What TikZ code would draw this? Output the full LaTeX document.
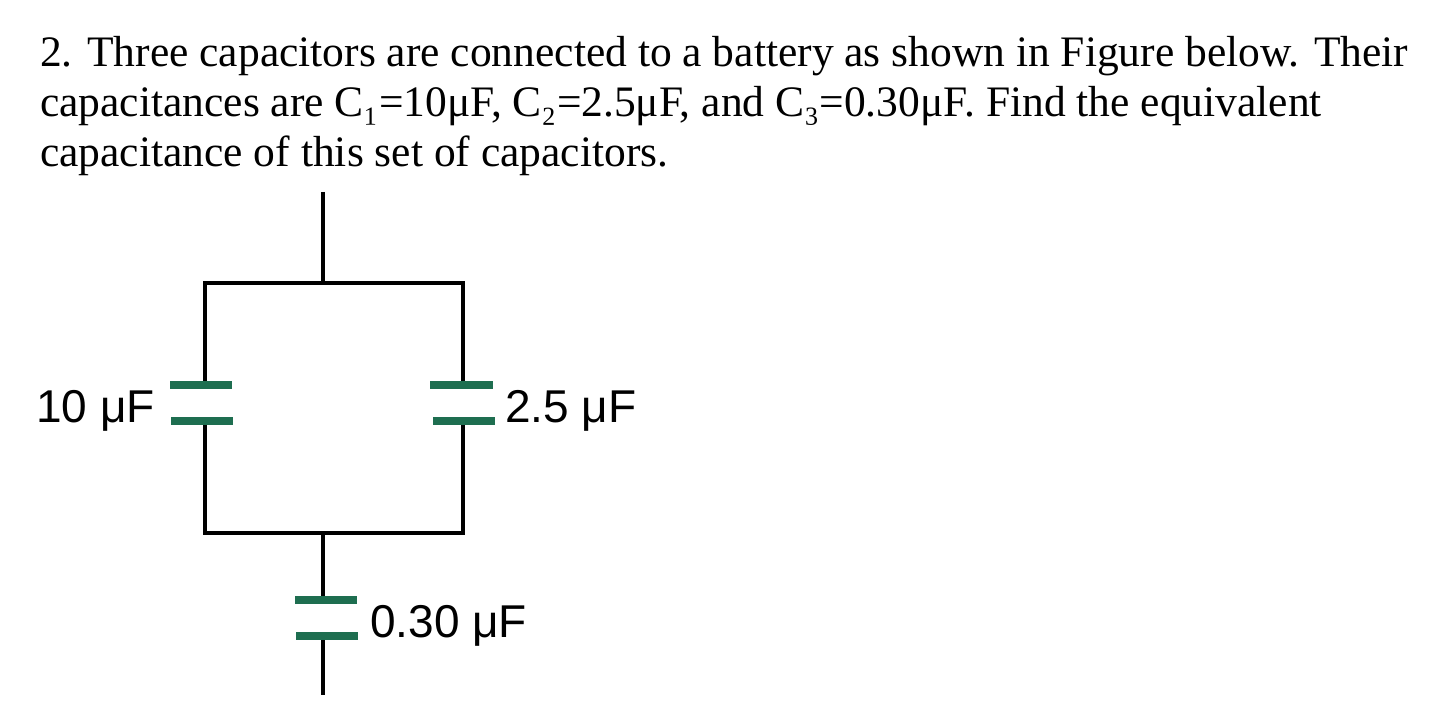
\documentclass[tikz,border=0pt]{standalone}
\usepackage{fontspec}
\setmainfont{Liberation Serif}
\newfontfamily\lab{Liberation Sans}
\definecolor{plate}{HTML}{1E6E50}
\begin{document}
\begin{tikzpicture}[x=1pt,y=-1pt,
  wire/.style={line width=3.2pt,black},
  plt/.style={line width=8pt,plate},
  txt/.style={anchor=base west,inner sep=0pt,font=\fontsize{43.5}{50}\selectfont},
  lbl/.style={font=\lab\fontsize{46}{52}\selectfont,inner sep=0pt}]
\useasboundingbox (0,0) rectangle (1446,708);
\node[txt] (q1) at (40,67) {2. Three capacitors are connected to a battery as shown in Figure below. Their};
\node[txt] (q2) at (40,117) {capacitances are C₁=10μF, C₂=2.5μF, and C₃=0.30μF. Find the equivalent};
\node[txt] (q3) at (40,167) {capacitance of this set of capacitors.};
\coordinate (t0) at (323,192);
\coordinate (t1) at (323,283);
\coordinate (tl) at (205,283);
\coordinate (tr) at (463,283);
\coordinate (bl) at (205,533);
\coordinate (br) at (463,533);
\coordinate (b1) at (323,533);
\coordinate (b2) at (323,695);
\draw[wire] (t0) -- (t1);
\draw[wire,line cap=rect] (tl) -- (tr);
\draw[wire,line cap=rect] (bl) -- (br);
\draw[wire] (tl) -- (205,385);
\draw[wire] (205,421) -- (bl);
\draw[wire] (tr) -- (463,385);
\draw[wire] (463,421) -- (br);
\draw[wire] (b1) -- (323,600);
\draw[wire] (323,636) -- (b2);
\draw[plt] (170,385) -- (232,385);
\draw[plt] (171,421) -- (233,421);
\draw[plt] (430,385) -- (493,385);
\draw[plt] (433,421) -- (495,421);
\draw[plt] (295,600) -- (357,600);
\draw[plt] (296,636) -- (358,636);
\node[lbl,anchor=base west] (l1) at (36,423) {10 μF};
\node[lbl,anchor=base west] (l2) at (505,423) {2.5 μF};
\node[lbl,anchor=base west] (l3) at (370,637) {0.30 μF};
\end{tikzpicture}
\end{document}
